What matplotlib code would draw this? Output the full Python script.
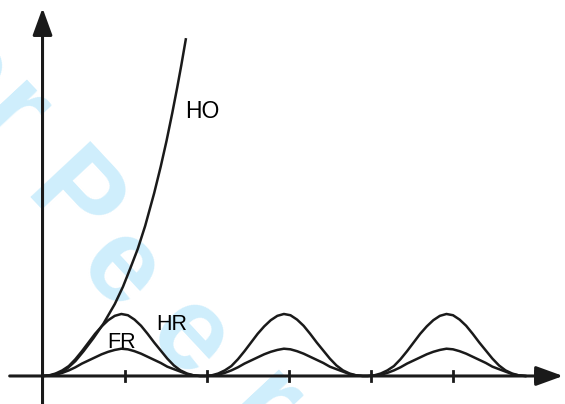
import matplotlib
matplotlib.use("Agg")
import matplotlib.pyplot as plt
from matplotlib.transforms import IdentityTransform
import numpy as np

# one bump of the periodic curves (offset from bump start, in tick units)
bump_u = [0, .08, .16, .24, .32, .40, .48, .56, .64, .72, .80, .88, .96,
          1.04, 1.12, 1.20, 1.28, 1.36, 1.44, 1.52, 1.60, 1.68, 1.76, 1.84, 1.92]
hr_bump = [0, .01, .04, .09, .16, .27, .40, .54, .68, .80, .90, .97, 1.0,
           .98, .91, .81, .68, .54, .41, .28, .17, .09, .04, .01, 0]
fr_bump = [0, .005, .02, .05, .09, .14, .20, .25, .30, .35, .39, .42, .44,
           .43, .40, .36, .31, .26, .21, .15, .11, .07, .03, .01, 0]
bump_starts = [0, 1.98, 3.96]

# HO curve
ho_x = [0, .10, .21, .30, .40, .50, .62, .74, .88, .98, 1.07, 1.16, 1.25,
        1.36, 1.44, 1.51, 1.58, 1.64, 1.69, 1.745]
ho_y = [0, .01, .05, .12, .24, .40, .61, .84, 1.16, 1.44, 1.74, 2.05, 2.42,
        2.95, 3.38, 3.79, 4.24, 4.65, 5.01, 5.43]

tick_x = [1, 2, 3, 4, 5, 6]

# watermark letters ("For Peer Review", only part of it is inside the frame)
wm_chars = ["o", "r", "P", "e", "e", "r"]
wm_px = [(-35, 70), (10, 118), (70, 204), (119, 272), (188, 340), (262, 408)]

INK = "#1a1a1a"
W, H = 565, 404

fig = plt.figure(figsize=(W / 100, H / 100), dpi=100)
ax = fig.add_axes([0, 0, 1, 1])
ax.axis("off")
ax.set_xlim(-0.518, 6.364)
ax.set_ylim(-0.452, 6.065)

for ch, (px, py) in zip(wm_chars, wm_px):
    ax.text(px, H - py, ch, transform=IdentityTransform(), fontsize=85,
            fontweight="bold", family="Liberation Sans", color="#cfeefc",
            rotation=-47, rotation_mode="anchor", ha="center", va="center",
            zorder=0, clip_on=False)

# axes with arrow heads
arrow = dict(arrowstyle="-|>,head_length=0.55,head_width=0.2", mutation_scale=30,
             lw=2.2, color=INK, shrinkA=0, shrinkB=0)
ax.annotate("", xy=(6.34, 0), xytext=(-0.40, 0), arrowprops=arrow, zorder=3)
ax.annotate("", xy=(0, 5.935), xytext=(0, -0.6), arrowprops=arrow, zorder=3)
for t in tick_x:
    ax.plot([t, t], [-0.08, 0.08], color=INK, lw=2.0, zorder=3)

u = np.array(bump_u)
bx = np.concatenate([u + s for s in bump_starts])
hr = np.tile(hr_bump, len(bump_starts))
fr = np.tile(fr_bump, len(bump_starts))

ax.plot(bx, hr, color=INK, lw=1.8, zorder=4)
ax.plot(bx, fr, color=INK, lw=1.8, zorder=4)
ax.plot(ho_x, ho_y, color=INK, lw=1.8, zorder=4)

lbl = dict(family="Liberation Sans", color="black", ha="left", va="baseline",
           zorder=5)
ax.text(1.736, 4.16, "HO", fontsize=16.5, **lbl)
ax.text(1.382, 0.742, "HR", fontsize=15.5, **lbl)
ax.text(0.786, 0.452, "FR", fontsize=15.5, **lbl)

fig.savefig("out.png", dpi=100)
